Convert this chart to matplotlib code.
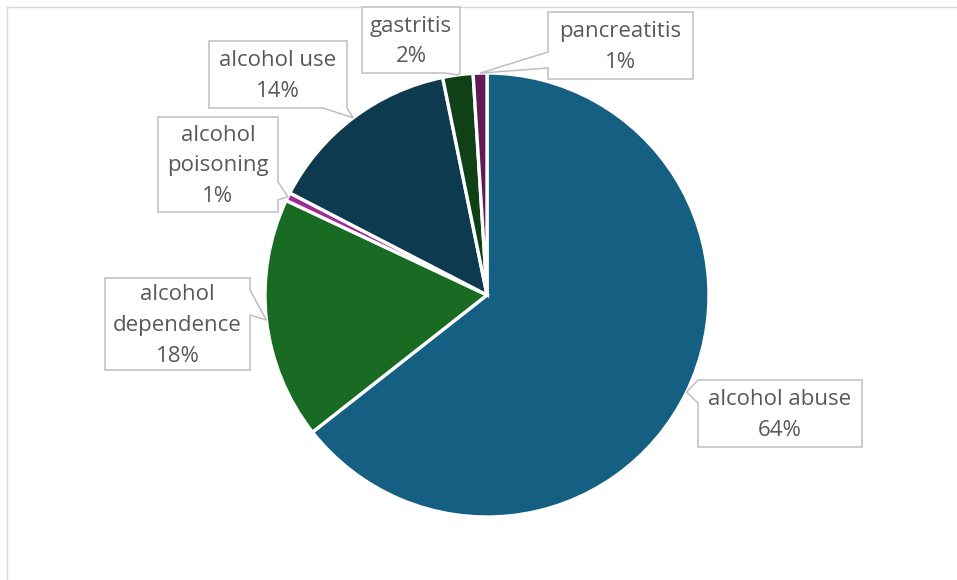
import matplotlib
matplotlib.use("Agg")
import matplotlib.pyplot as plt
from matplotlib.patches import Polygon
import numpy as np

# Share of diagnoses (percent)
categories = ["alcohol abuse", "alcohol\ndependence", "alcohol\npoisoning",
              "alcohol use", "gastritis", "pancreatitis"]
shares = [64.4, 17.6, 0.6, 14.2, 2.2, 1.0]
colors = ["#156082", "#196B24", "#A02B93", "#0D3A4E", "#0F4016", "#601A58"]

W, H = 957, 580
fig = plt.figure(figsize=(W / 100, H / 100), dpi=100)
ax = fig.add_axes([0, 0, 1, 1])

# chart area border (top and left edges visible)
ax.plot([7, W], [H - 7, H - 7], color="#d9d9d9", lw=1.0, zorder=1)
ax.plot([7, 7], [H - 7, 0], color="#d9d9d9", lw=1.0, zorder=1)

cx, cy, R = 487, H - 295, 222
wedges, _ = ax.pie(shares, colors=colors, startangle=90, counterclock=False,
                   center=(cx, cy), radius=R, frame=True,
                   wedgeprops=dict(edgecolor="white", linewidth=2.4))
ax.set_xlim(0, W)
ax.set_ylim(0, H)
ax.set_aspect("equal")
ax.axis("off")

# label boxes (x0, y0, x1, y1 in pixels from top-left), pointer side and base span
layout = [
    ((698, 380, 862, 447), "left", 380, 403),
    ((105, 278, 250, 370), "right", 290, 315),
    ((158, 117, 278, 212), "right", 182, 200),
    ((209, 41, 347, 108), "bottom", 323, 347),
    ((362, 7, 460, 73), "bottom", 445, 460),
    ((548, 12, 693, 79), "left", 52, 68),
]

total = sum(shares)
for w, name, val, (box, side, b0, b1) in zip(wedges, categories, shares, layout):
    mid = np.deg2rad((w.theta1 + w.theta2) / 2)
    tip = (w.center[0] + w.r * np.cos(mid), w.center[1] + w.r * np.sin(mid))
    x0, y0, x1, y1 = box
    top, bot = H - y0, H - y1
    verts = [(x0, top), (x1, top)]
    if side == "right":
        verts += [(x1, H - b0), tip, (x1, H - b1)]
    verts.append((x1, bot))
    if side == "bottom":
        verts += [(b1, bot), tip, (b0, bot)]
    verts.append((x0, bot))
    if side == "left":
        verts += [(x0, H - b1), tip, (x0, H - b0)]
    ax.add_patch(Polygon(verts, closed=True, facecolor="white",
                         edgecolor="#bfbfbf", lw=1.1, joinstyle="miter", zorder=5))
    ax.text((x0 + x1) / 2, (top + bot) / 2 - 1.5, f"{name}\n{val / total * 100:.0f}%",
            ha="center", va="center", fontsize=16, color="#595959",
            family="Open Sans", linespacing=1.62, zorder=6)

fig.savefig("out.png", dpi=100, facecolor="white")
